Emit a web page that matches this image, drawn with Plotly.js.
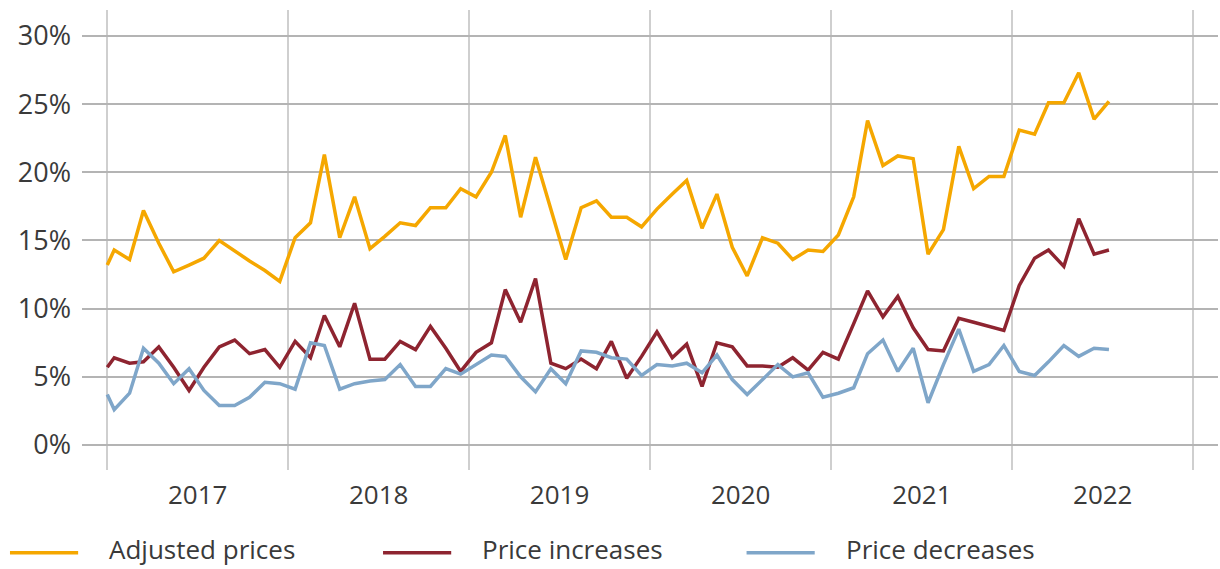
<!DOCTYPE html>
<html>
<head>
<meta charset="utf-8">
<script src="https://cdn.plot.ly/plotly-3.0.1.min.js"></script>
<style>html,body{margin:0;padding:0;background:#fff;}#chart{width:1220px;height:569px;}</style>
</head>
<body>
<div id="chart"></div>
<script>
// Series names
const seriesNames = ["Adjusted prices", "Price increases", "Price decreases"];
// First observation date, then monthly observations (mid-month) from Jan 2017 to Jul 2022
const firstDate = "2017-01-01";
const startYear = 2017;
const monthCount = 67;

// Values in percent (first value = 2017-01-01, then monthly)
const adjustedPrices = [13.2,
  14.3, 13.6, 17.2, 14.8, 12.7, 13.2, 13.7, 15.0, 14.2, 13.5, 12.8, 12.0,
  15.2, 16.3, 21.3, 15.2, 18.2, 14.4, 15.3, 16.3, 16.1, 17.4, 17.4, 18.8,
  18.2, 20.0, 22.7, 16.7, 21.1, 17.2, 13.6, 17.4, 17.9, 16.7, 16.7, 16.0,
  17.3, 18.4, 19.4, 15.9, 18.4, 14.5, 12.4, 15.2, 14.8, 13.6, 14.3, 14.2,
  15.4, 18.2, 23.8, 20.5, 21.2, 21.0, 14.0, 15.8, 21.9, 18.8, 19.7, 19.7,
  23.1, 22.8, 25.1, 25.1, 27.3, 23.9, 25.2];
const priceIncreases = [5.7,
  6.4, 6.0, 6.1, 7.2, 5.7, 4.0, 5.7, 7.2, 7.7, 6.7, 7.0, 5.7,
  7.6, 6.4, 9.5, 7.2, 10.4, 6.3, 6.3, 7.6, 7.0, 8.7, 7.1, 5.4,
  6.8, 7.5, 11.4, 9.0, 12.2, 6.0, 5.6, 6.3, 5.6, 7.6, 4.9, 6.5,
  8.3, 6.4, 7.4, 4.3, 7.5, 7.2, 5.8, 5.8, 5.7, 6.4, 5.5, 6.8,
  6.3, 8.9, 11.3, 9.4, 10.9, 8.6, 7.0, 6.9, 9.3, 9.0, 8.7, 8.4,
  11.7, 13.7, 14.3, 13.1, 16.6, 14.0, 14.3];
const priceDecreases = [3.7,
  2.6, 3.8, 7.1, 6.0, 4.5, 5.6, 4.0, 2.9, 2.9, 3.5, 4.6, 4.5,
  4.1, 7.5, 7.3, 4.1, 4.5, 4.7, 4.8, 5.9, 4.3, 4.3, 5.6, 5.2,
  5.9, 6.6, 6.5, 5.0, 3.9, 5.6, 4.5, 6.9, 6.8, 6.4, 6.3, 5.1,
  5.9, 5.8, 6.0, 5.3, 6.6, 4.8, 3.7, 4.8, 5.9, 5.0, 5.3, 3.5,
  3.8, 4.2, 6.7, 7.7, 5.4, 7.1, 3.1, 5.9, 8.5, 5.4, 5.9, 7.3,
  5.4, 5.1, 6.1, 7.3, 6.5, 7.1, 7.0];

const seriesValues = [adjustedPrices, priceIncreases, priceDecreases];
const seriesColors = ["#F5A700", "#8E2430", "#7FA6C9"];

// Build date axis
const dates = [firstDate];
for (let k = 0; k < monthCount; k++) {
  const y = startYear + Math.floor(k / 12);
  const m = (k % 12) + 1;
  dates.push(y + "-" + String(m).padStart(2, "0") + "-15");
}

const FONT = "'Open Sans', Roboto, sans-serif";
const FSIZE = 26;
const TEXTCOL = "#3a3a3a";

const traces = seriesValues.map((vals, i) => ({
  type: "scatter",
  mode: "lines",
  name: seriesNames[i],
  x: dates,
  y: vals,
  line: {color: seriesColors[i], width: 3.5},
  showlegend: false,
  hoverinfo: "x+y+name"
}));

// Manual legend (line samples + labels) in paper coordinates
const legendX = [-0.0634, 0.265, 0.585];
const legendLineLen = 0.06;
const legendTextGap = 0.0265;
const legendLineY = -0.18;
const legendTextY = -0.172;
const shapes = [];
const annotations = [];
seriesNames.forEach((name, i) => {
  shapes.push({
    type: "line", xref: "paper", yref: "paper",
    x0: legendX[i], x1: legendX[i] + legendLineLen, y0: legendLineY, y1: legendLineY,
    line: {color: seriesColors[i], width: 3.5}
  });
  annotations.push({
    xref: "paper", yref: "paper", x: legendX[i] + legendLineLen + legendTextGap, y: legendTextY,
    xanchor: "left", yanchor: "middle", showarrow: false, text: name, borderpad: 0,
    font: {family: FONT, size: FSIZE, color: TEXTCOL}
  });
});

const layout = {
  width: 1220, height: 569,
  margin: {l: 82, r: 2, t: 10, b: 99},
  paper_bgcolor: "#ffffff",
  plot_bgcolor: "#ffffff",
  font: {family: FONT, size: FSIZE, color: TEXTCOL},
  showlegend: false,
  xaxis: {
    type: "date",
    range: ["2016-11-11", "2023-02-20"],
    tick0: "2017-01-01",
    dtick: "M12",
    tickformat: "%Y",
    ticklabelmode: "period",
    showgrid: true,
    gridcolor: "#cfcfcf",
    gridwidth: 2,
    zeroline: false,
    showline: false,
    ticks: "",
    ticklabelstandoff: 7,
    tickfont: {family: FONT, size: FSIZE, color: TEXTCOL}
  },
  yaxis: {
    range: [-1.83, 31.9],
    dtick: 5,
    tick0: 0,
    ticksuffix: "%",
    showgrid: true,
    gridcolor: "#b4b4b4",
    gridwidth: 2,
    zeroline: false,
    showline: false,
    ticks: "",
    ticklabelstandoff: 10,
    tickfont: {family: FONT, size: 27, color: TEXTCOL}
  },
  shapes: shapes,
  annotations: annotations
};

Plotly.newPlot("chart", traces, layout, {displayModeBar: false, staticPlot: true});
</script>
</body>
</html>
